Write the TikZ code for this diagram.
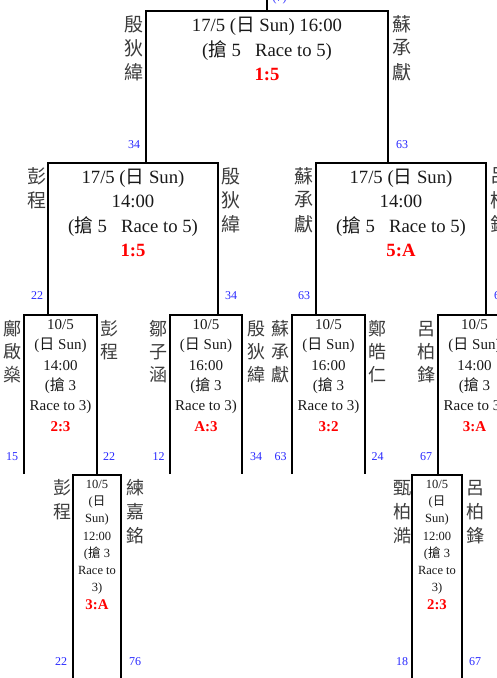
\documentclass[tikz,border=0pt]{standalone}
\usepackage{fontspec}
\setmainfont{Liberation Serif}
\newfontfamily\cjk{Noto Sans CJK TC}
\definecolor{numblue}{RGB}{40,40,255}
\definecolor{scorered}{RGB}{255,0,0}
\definecolor{namegray}{RGB}{60,60,60}
\definecolor{txt}{RGB}{25,25,25}
\begin{document}
\begin{tikzpicture}[x=1pt,y=-1pt,
  br/.style={line width=2.4pt},
  ta/.style={anchor=base, inner sep=0pt, text=txt, font=\fontsize{18.7}{20}\selectfont},
  tb/.style={anchor=base, inner sep=0pt, text=txt, font=\fontsize{15}{17}\selectfont},
  tc/.style={anchor=base, inner sep=0pt, text=txt, font=\fontsize{12.5}{14}\selectfont},
  sa/.style={anchor=base, inner sep=0pt, text=scorered, font=\fontsize{18.7}{20}\selectfont\bfseries},
  sb/.style={anchor=base, inner sep=0pt, text=scorered, font=\fontsize{15}{17}\selectfont\bfseries},
  sc/.style={anchor=base, inner sep=0pt, text=scorered, font=\fontsize{14.8}{16}\selectfont\bfseries},
  nm/.style={anchor=center, inner sep=0pt, text=namegray, font=\cjk\fontsize{19}{20}\selectfont},
  nms/.style={anchor=center, inner sep=0pt, text=namegray, font=\cjk\fontsize{18}{20}\selectfont},
  num/.style={anchor=base, inner sep=0pt, text=numblue, font=\fontsize{12}{14}\selectfont}]
\useasboundingbox (0,0) rectangle (497,678);
\clip (0,0) rectangle (497,678);

% ---- bracket corners ----
\coordinate (m1L) at (146,11);  \coordinate (m1R) at (388,11);
\coordinate (m2aL) at (48,163); \coordinate (m2aR) at (218,163);
\coordinate (m2bL) at (316,163);\coordinate (m2bR) at (486,163);
\coordinate (m3aL) at (24,315); \coordinate (m3aR) at (97,315);
\coordinate (m3bL) at (170,315);\coordinate (m3bR) at (242,315);
\coordinate (m3cL) at (292,315);\coordinate (m3cR) at (365,315);
\coordinate (m3dL) at (438,315);\coordinate (m3dR) at (511,315);
\coordinate (m4aL) at (73,475); \coordinate (m4aR) at (121,475);
\coordinate (m4bL) at (412,475);\coordinate (m4bR) at (462,475);
\coordinate (endL) at (0,474);
\coordinate (endB) at (0,700);
\coordinate (topc) at (267,-10);

\draw[br] (topc) -- (topc |- m1L);
\draw[br] (m1L |- m2aL) -- (m1L) -- (m1R) -- (m1R |- m2bL);
\draw[br] (m2aL |- m3aL) -- (m2aL) -- (m2aR) -- (m2aR |- m3bL);
\draw[br] (m2bL |- m3cL) -- (m2bL) -- (m2bR) -- (m2bR |- m3dL);
\draw[br] (m3aL |- endL) -- (m3aL) -- (m3aR) -- (m3aR |- m4aL);
\draw[br] (m3bL |- endL) -- (m3bL) -- (m3bR) -- (m3bR |- endL);
\draw[br] (m3cL |- endL) -- (m3cL) -- (m3cR) -- (m3cR |- endL);
\draw[br] (m3dL |- m4bL) -- (m3dL) -- (m3dR) -- (m3dR |- endL);
\draw[br] (m4aL |- endB) -- (m4aL) -- (m4aR) -- (m4aR |- endB);
\draw[br] (m4bL |- endB) -- (m4bL) -- (m4bR) -- (m4bR |- endB);

\node[num] (seed7) at (279.5,1) {(7)};

% ---- final ----
\node[ta] (f1) at (267,31.5) {17/5 ({\cjk 日} Sun) 16:00};
\node[ta] (f2) at (267,56) {({\cjk 搶} 5\hspace{14pt}Race to 5)};
\node[sa] (fs) at (267,80.3) {1:5};
\foreach \c [count=\i] in {殷,狄,緯} \node[nm] (fnl\i) at (134,24*\i) {\c};
\foreach \c [count=\i] in {蘇,承,獻} \node[nm] (fnr\i) at (402,24*\i) {\c};
\node[num] (fxl) at (134,148.3) {34};
\node[num] (fxr) at (402,148.3) {63};

% ---- semifinals ----
\foreach \xc/\sc/\nm in {133/1:5/a, 401/5:A/b}{
  \node[ta] (s\nm1) at (\xc,183.3) {17/5 ({\cjk 日} Sun)};
  \node[ta] (s\nm2) at (\xc,207.6) {14:00};
  \node[ta] (s\nm3) at (\xc,232) {({\cjk 搶} 5\hspace{14pt}Race to 5)};
  \node[sa] (s\nm4) at (\xc,256.3) {\sc};
}
\foreach \c [count=\i] in {彭,程} \node[nm] (sanl\i) at (37,152+24*\i) {\c};
\foreach \c [count=\i] in {殷,狄,緯} \node[nm] (sanr\i) at (231,152+24*\i) {\c};
\foreach \c [count=\i] in {蘇,承,獻} \node[nm] (sbnl\i) at (304,152+24*\i) {\c};
\foreach \c [count=\i] in {呂,柏,鋒} \node[nm] (sbnr\i) at (500,152+24*\i) {\c};
\node[num] (saxl) at (37,299.3) {22};
\node[num] (saxr) at (231,299.3) {34};
\node[num] (sbxl) at (304,299.3) {63};
\node[num] (sbxr) at (500,299.3) {67};

% ---- quarterfinals ----
\foreach \xc/\tm/\sc/\nm in {60.5/14:00/2:3/a, 206/16:00/A:3/b, 328.5/16:00/3:2/c, 474.5/14:00/3:A/d}{
  \node[tb] (q\nm1) at (\xc,329.5) {10/5};
  \node[tb] (q\nm2) at (\xc,349.8) {({\cjk 日} Sun)};
  \node[tb] (q\nm3) at (\xc,370.1) {\tm};
  \node[tb] (q\nm4) at (\xc,390.4) {({\cjk 搶} 3};
  \node[tb] (q\nm5) at (\xc,410.7) {Race to 3)};
  \node[sb] (q\nm6) at (\xc,431) {\sc};
}
\foreach \c [count=\i] in {鄺,啟,燊} \node[nms] (qanl\i) at (12.5,306+23*\i) {\c};
\foreach \c [count=\i] in {彭,程} \node[nms] (qanr\i) at (109.5,306+23*\i) {\c};
\foreach \c [count=\i] in {鄒,子,涵} \node[nms] (qbnl\i) at (158,306+23*\i) {\c};
\foreach \c [count=\i] in {殷,狄,緯} \node[nms] (qbnr\i) at (256,306+23*\i) {\c};
\foreach \c [count=\i] in {蘇,承,獻} \node[nms] (qcnl\i) at (280,306+23*\i) {\c};
\foreach \c [count=\i] in {鄭,皓,仁} \node[nms] (qcnr\i) at (377.5,306+23*\i) {\c};
\foreach \c [count=\i] in {呂,柏,鋒} \node[nms] (qdnl\i) at (426.5,306+23*\i) {\c};
\node[num] (qaxl) at (12,460) {15};
\node[num] (qaxr) at (109,460) {22};
\node[num] (qbxl) at (158.5,460) {12};
\node[num] (qbxr) at (256,460) {34};
\node[num] (qcxl) at (280.5,460) {63};
\node[num] (qcxr) at (377.5,460) {24};
\node[num] (qdxl) at (426,460) {67};

% ---- first round ----
\foreach \xc/\sc/\nm in {97/3:A/a, 437/2:3/b}{
  \node[tc] (r\nm1) at (\xc,488.5) {10/5};
  \node[tc] (r\nm2) at (\xc,505.7) {({\cjk 日}};
  \node[tc] (r\nm3) at (\xc,522.9) {Sun)};
  \node[tc] (r\nm4) at (\xc,540.1) {12:00};
  \node[tc] (r\nm5) at (\xc,557.3) {({\cjk 搶} 3};
  \node[tc] (r\nm6) at (\xc,574.5) {Race to};
  \node[tc] (r\nm7) at (\xc,591.7) {3)};
  \node[sc] (r\nm8) at (\xc,609.5) {\sc};
}
\foreach \c [count=\i] in {彭,程} \node[nms] (ranl\i) at (62,464+24*\i) {\c};
\foreach \c [count=\i] in {練,嘉,銘} \node[nms] (ranr\i) at (135,464+24*\i) {\c};
\foreach \c [count=\i] in {甄,柏,澔} \node[nms] (rbnl\i) at (402,464+24*\i) {\c};
\foreach \c [count=\i] in {呂,柏,鋒} \node[nms] (rbnr\i) at (475,464+24*\i) {\c};
\node[num] (raxl) at (61,665) {22};
\node[num] (raxr) at (135,665) {76};
\node[num] (rbxl) at (402,665) {18};
\node[num] (rbxr) at (475,665) {67};
\end{tikzpicture}
\end{document}
